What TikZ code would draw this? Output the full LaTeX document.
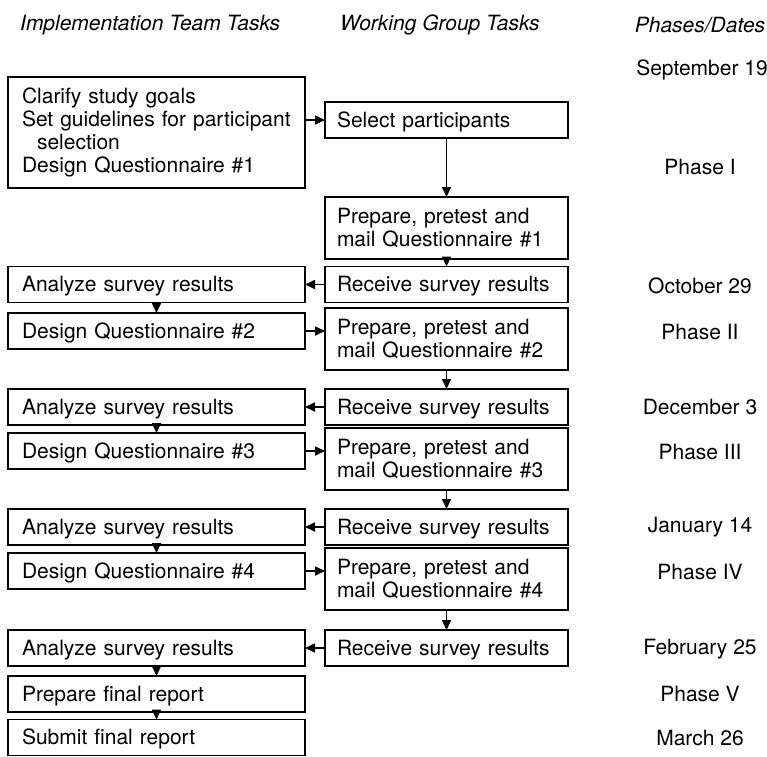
\documentclass[tikz,border=0pt]{standalone}
\usepackage{fontspec}
\setmainfont{TeX Gyre Heros}
\usetikzlibrary{arrows.meta}
\begin{document}
\begin{tikzpicture}[x=1pt,y=-1pt,
  box/.style={draw, line width=1.7pt, inner ysep=0pt, outer sep=0pt, align=left, font=\fontsize{21}{23}\selectfont},
  lbox/.style={box, inner xsep=14pt, text width=269pt, minimum height=36pt},
  mbox/.style={box, inner xsep=12pt, text width=219pt, minimum height=36pt},
  one/.style={text height=15pt, text depth=1pt},
  tall/.style={minimum height=62pt},
  lab/.style={font=\fontsize{21}{23}\selectfont, inner sep=0pt},
  hdr/.style={font=\fontsize{21}{23}\selectfont\itshape, inner sep=0pt},
  arr/.style={line width=1.7pt, -{Triangle[length=10pt,width=9pt]}}
]
\useasboundingbox (0,0) rectangle (767,756);

% headers
\node[hdr, anchor=west] (h1) at (20,25) {Implementation Team Tasks};
\node[hdr, anchor=west] (h2) at (340,25) {Working Group Tasks};
\node[hdr] (h3) at (700,25) {Phases/Dates};

% right column
\node[lab] (t1) at (702,70) {September 19};
\node[lab] (t2) at (700,167) {Phase I};
\node[lab] (t3) at (700,286) {October 29};
\node[lab] (t4) at (700,332) {Phase II};
\node[lab] (t5) at (700,407) {December 3};
\node[lab] (t6) at (700,452) {Phase III};
\node[lab] (t7) at (700,527) {January 14};
\node[lab] (t8) at (700,572) {Phase IV};
\node[lab] (t9) at (700,649) {February 25};
\node[lab] (t10) at (700,694) {Phase V};
\node[lab] (t11) at (700,738) {March 26};

% left column
\node[lbox, minimum height=111pt] (A) at (156.5,132.5)
  {Clarify study goals\\Set guidelines for~participant\\\hspace*{15pt}selection\\Design Questionnaire \#1};
\node[lbox, one] (a1) at (156.5,284.5) {Analyze survey results};
\node[lbox, one] (d2) at (156.5,331) {Design Questionnaire \#2};
\node[lbox, one] (a2) at (156.5,407) {Analyze survey results};
\node[lbox, one] (d3) at (156.5,451) {Design Questionnaire \#3};
\node[lbox, one] (a3) at (156.5,527) {Analyze survey results};
\node[lbox, one] (d4) at (156.5,571) {Design Questionnaire \#4};
\node[lbox, one] (a4) at (156.5,648) {Analyze survey results};
\node[lbox, one] (pf) at (156.5,694) {Prepare final report};
\node[lbox, one] (sf) at (156.5,737.5) {Submit final report};

% middle column
\node[mbox, one] (sel) at (446.5,120) {Select participants};
\node[mbox, tall] (p1) at (446.5,228) {Prepare, pretest and\\mail Questionnaire \#1};
\node[mbox, one] (r1) at (446.5,284.5) {Receive survey results};
\node[mbox, tall] (p2) at (446.5,339) {Prepare, pretest and\\mail Questionnaire \#2};
\node[mbox, one] (r2) at (446.5,407) {Receive survey results};
\node[mbox, tall] (p3) at (446.5,459) {Prepare, pretest and\\mail Questionnaire \#3};
\node[mbox, one] (r3) at (446.5,527) {Receive survey results};
\node[mbox, tall] (p4) at (446.5,579) {Prepare, pretest and\\mail Questionnaire \#4};
\node[mbox, one] (r4) at (446.5,648) {Receive survey results};

% connectors
\draw[arr] (A.east |- sel.west) -- (sel.west);
\draw[arr] (sel) -- (p1);
\draw[arr] (p1) -- (r1);
\draw[arr] (r1) -- (a1);
\draw[arr] (a1) -- (d2);
\draw[arr] (d2.east) -- (d2.east -| p2.west);
\draw[arr] (p2) -- (r2);
\draw[arr] (r2) -- (a2);
\draw[arr] (a2) -- (d3);
\draw[arr] (d3.east) -- (d3.east -| p3.west);
\draw[arr] (p3) -- (r3);
\draw[arr] (r3) -- (a3);
\draw[arr] (a3) -- (d4);
\draw[arr] (d4.east) -- (d4.east -| p4.west);
\draw[arr] (p4) -- (r4);
\draw[arr] (r4) -- (a4);
\draw[arr] (a4) -- (pf);
\draw[arr] (pf) -- (sf);
\end{tikzpicture}
\end{document}
